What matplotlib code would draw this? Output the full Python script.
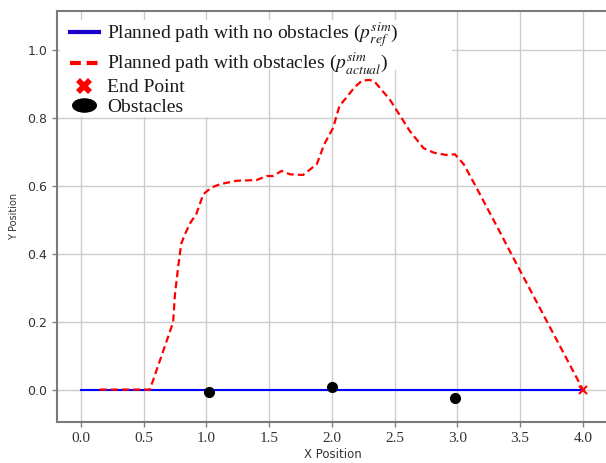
import matplotlib
matplotlib.use("Agg")
import matplotlib.pyplot as plt
from matplotlib.lines import Line2D
from matplotlib.patches import Rectangle
from matplotlib.path import Path
from matplotlib.transforms import Affine2D

plt.rcParams["mathtext.fontset"] = "stix"

# Reference path (no obstacles)
ref_x = [0.0, 4.0]
ref_y = [0.0, 0.0]

# Actual path avoiding obstacles
act_x = [0.15, 0.55, 0.735, 0.75, 0.775, 0.80, 0.83, 0.87, 0.92, 0.975, 1.04, 1.11,
         1.24, 1.40, 1.48, 1.53, 1.60, 1.665, 1.77, 1.88, 1.94, 2.01, 2.06, 2.12,
         2.18, 2.24, 2.30, 2.34, 2.46, 2.62, 2.73, 2.81, 2.91, 2.98, 3.05, 3.14,
         3.23, 3.34, 3.44, 4.0]
act_y = [0.0, 0.0, 0.198, 0.281, 0.36, 0.43, 0.458, 0.49, 0.517, 0.575, 0.595, 0.605,
         0.615, 0.617, 0.629, 0.629, 0.644, 0.634, 0.632, 0.664, 0.723, 0.771, 0.835, 0.862,
         0.89, 0.91, 0.912, 0.907, 0.855, 0.762, 0.711, 0.698, 0.691, 0.693, 0.664, 0.603,
         0.540, 0.463, 0.392, 0.0]

end_x = [4.0]
end_y = [0.0]

obs_x = [1.02, 2.005, 2.98]
obs_y = [-0.008, 0.009, -0.026]

x_ticks = [0.0, 0.5, 1.0, 1.5, 2.0, 2.5, 3.0, 3.5, 4.0]
y_ticks = [0.0, 0.2, 0.4, 0.6, 0.8, 1.0]

W, H = 606, 463
fig = plt.figure(figsize=(W / 100, H / 100), dpi=100)
left, right, top, bottom = 57, 608, 11, 422
ax = fig.add_axes([left / W, 1 - bottom / H, (right - left) / W, (bottom - top) / H])

ax.grid(True, color="#cccccc", linewidth=1.0)
ax.set_axisbelow(True)

ax.plot(ref_x, ref_y, color="blue", linewidth=1.5, zorder=2)
ax.plot(act_x, act_y, color="red", linestyle=(0, (3.2, 1.8)), linewidth=1.6, zorder=3)
ax.plot(end_x, end_y, linestyle="none", marker="x", color="red",
        markersize=6, markeredgewidth=1.5, zorder=4)
ax.plot(obs_x, obs_y, linestyle="none", marker="o", color="black",
        markersize=7, zorder=4)

ax.set_xlim(-0.19, 4.2)
ax.set_ylim(-0.0955, 1.115)
ax.set_xticks(x_ticks)
ax.set_yticks(y_ticks)
ax.set_xticklabels([f"{v:.1f}" for v in x_ticks], family="Liberation Serif",
                   fontsize=11, color="#333333")
ax.set_yticklabels([f"{v:.1f}" for v in y_ticks], family="DejaVu Sans",
                   fontsize=9, color="#333333")
ax.tick_params(color="#808080", length=3.5, width=1)

for side in ["left", "bottom", "top"]:
    ax.spines[side].set_color("#7a7a7a")
    ax.spines[side].set_linewidth(1.5)
ax.spines["right"].set_visible(False)

ax.set_xlabel("X Position", family="DejaVu Sans", fontsize=8.5, color="#333333",
              labelpad=2)
ax.set_ylabel("Y Position", family="DejaVu Sans", fontsize=7, color="#333333",
              labelpad=6)

# White backing behind the legend rows
def px_rect(x0, y0, x1, y1):
    return Rectangle((x0 / W, 1 - y1 / H), (x1 - x0) / W, (y1 - y0) / H,
                     transform=fig.transFigure, facecolor="white",
                     edgecolor="none", zorder=1.8)

ax.add_patch(px_rect(60, 20, 452, 70))
ax.add_patch(px_rect(60, 70, 232, 117))

ellipse = Path.unit_circle().transformed(Affine2D().scale(1.8, 1.0))

handles = [
    Line2D([], [], color="#1a00cc", linewidth=3),
    Line2D([], [], color="red", linewidth=3, linestyle=(0, (2.6, 1.4))),
    Line2D([], [], color="red", linestyle="none", marker="X", markersize=12,
           markeredgewidth=0),
    Line2D([], [], color="black", linestyle="none", marker=ellipse, markersize=17),
]
labels = [
    r"Planned path with no obstacles ($p_{ref}^{sim}$)",
    r"Planned path with obstacles ($p_{actual}^{sim}$)",
    "End Point",
    "Obstacles",
]
leg = ax.legend(handles, labels, loc="upper left",
                bbox_to_anchor=(66 / W, 1 - 16 / H), bbox_transform=fig.transFigure,
                frameon=False, prop={"family": "Liberation Serif", "size": 14},
                handlelength=1.5, handletextpad=0.4, labelspacing=0.1,
                borderpad=0.2, borderaxespad=0)
for t in leg.get_texts():
    t.set_color("#1a1a1a")

fig.savefig("out.png", dpi=100)
